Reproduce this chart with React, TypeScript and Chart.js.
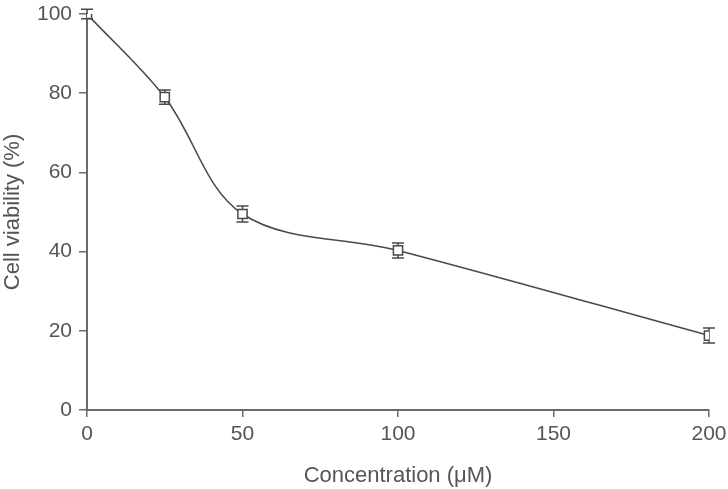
import React, { useEffect, useRef } from "react";
import { Chart, registerables } from "chart.js";

Chart.register(...registerables);

const concentrations = [0, 25, 50, 100, 200];
const viability = [100, 79, 49.5, 40.3, 18.8];
const errors = [1.2, 1.8, 2.0, 1.9, 1.9];
const xTicks = [0, 50, 100, 150, 200];
const yTicks = [0, 20, 40, 60, 80, 100];

const AXIS = "#6a6a6a";
const TEXT = "#555555";
const LINE = "#4a4a4a";
const FONT = "'Liberation Sans', Arial, sans-serif";

const errorBarPlugin = {
  id: "errorBars",
  beforeDatasetsDraw(chart: any) {
    const { ctx, scales } = chart;
    const xs = scales.x;
    const ys = scales.y;
    ctx.save();
    ctx.strokeStyle = LINE;
    ctx.lineWidth = 1.5;
    concentrations.forEach((c, i) => {
      const px = xs.getPixelForValue(c);
      const top = ys.getPixelForValue(viability[i] + errors[i]);
      const bot = ys.getPixelForValue(viability[i] - errors[i]);
      const cap = 6;
      ctx.beginPath();
      ctx.moveTo(px, top);
      ctx.lineTo(px, bot);
      ctx.moveTo(px - cap, top);
      ctx.lineTo(px + cap, top);
      ctx.moveTo(px - cap, bot);
      ctx.lineTo(px + cap, bot);
      ctx.stroke();
    });
    ctx.restore();
  },
};

export default function App() {
  const ref = useRef<HTMLCanvasElement | null>(null);
  useEffect(() => {
    document.body.style.margin = "0";
    const canvas = ref.current;
    if (!canvas) return;
    const chart = new Chart(canvas, {
      type: "line",
      data: {
        datasets: [
          {
            data: concentrations.map((c, i) => ({ x: c, y: viability[i] })),
            borderColor: LINE,
            borderWidth: 1.6,
            tension: 0.35,
            pointStyle: "rect",
            pointRadius: 6.5,
            pointBorderWidth: 1.5,
            pointBorderColor: LINE,
            pointBackgroundColor: "#ffffff",
            fill: false,
          },
        ],
      },
      options: {
        responsive: false,
        animation: false,
        events: [],
        layout: { padding: { top: 14, right: 19, left: 0, bottom: 0 } },
        plugins: {
          legend: { display: false },
          tooltip: { enabled: false },
        },
        scales: {
          x: {
            type: "linear",
            min: 0,
            max: 200,
            afterBuildTicks: (axis: any) => {
              axis.ticks = xTicks.map((v) => ({ value: v }));
            },
            afterFit: (axis: any) => {
              axis.height = 79;
              axis.paddingLeft = 0;
              axis.paddingRight = 0;
            },
            grid: {
              drawOnChartArea: false,
              drawTicks: true,
              tickLength: 7,
              color: AXIS,
              lineWidth: 1.5,
            },
            border: { color: AXIS, width: 2 },
            ticks: {
              color: TEXT,
              font: { family: FONT, size: 21 },
              padding: 5,
              maxRotation: 0,
            },
            title: {
              display: true,
              text: "Concentration (μM)",
              color: TEXT,
              font: { family: FONT, size: 22 },
              padding: { top: 4, bottom: 0 },
            },
          },
          y: {
            type: "linear",
            min: 0,
            max: 100,
            afterBuildTicks: (axis: any) => {
              axis.ticks = yTicks.map((v) => ({ value: v }));
            },
            afterFit: (axis: any) => {
              axis.width = 87;
              axis.paddingTop = 0;
              axis.paddingBottom = 0;
            },
            grid: {
              drawOnChartArea: false,
              drawTicks: true,
              tickLength: 8,
              color: AXIS,
              lineWidth: 1.5,
            },
            border: { color: AXIS, width: 2 },
            ticks: {
              color: TEXT,
              font: { family: FONT, size: 21 },
              padding: 7,
            },
            title: {
              display: true,
              text: "Cell viability (%)",
              color: TEXT,
              font: { family: FONT, size: 22 },
              padding: { top: 0, bottom: 0 },
            },
          },
        },
      },
      plugins: [errorBarPlugin],
    } as any);
    return () => chart.destroy();
  }, []);
  return (
    <div style={{ width: 728, height: 489 }}>
      <canvas ref={ref} width={728} height={489} style={{ display: "block" }} />
    </div>
  );
}
